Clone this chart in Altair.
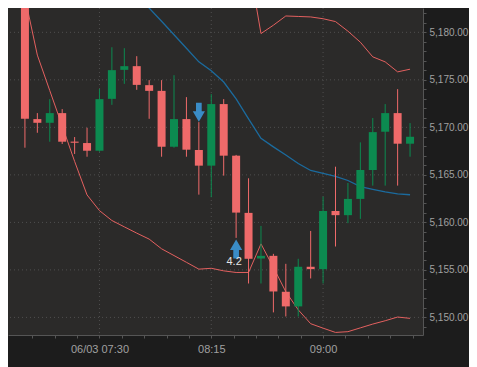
import altair as alt
import pandas as pd

# ---- data ----
candle_times = ["07:00", "07:05", "07:10", "07:15", "07:20", "07:25", "07:30", "07:35",
                "07:40", "07:45", "07:50", "07:55", "08:00", "08:05", "08:10", "08:15",
                "08:20", "08:25", "08:30", "08:35", "08:40", "08:45", "08:50", "08:55",
                "09:00", "09:05", "09:10", "09:15", "09:20", "09:25", "09:30", "09:35"]
opens = [5185.0, 5170.87, 5170.48, 5171.5, 5168.5, 5168.35, 5167.54, 5173.0,
         5176.05, 5176.44, 5174.44, 5173.84, 5167.96, 5170.87, 5167.62, 5165.97,
         5172.45, 5167.02, 5161.0, 5156.2, 5156.48, 5152.7, 5151.16, 5155.33,
         5155.08, 5161.2, 5160.76, 5162.47, 5165.51, 5169.54, 5171.5, 5168.28]
highs = [5186.0, 5171.5, 5172.97, 5171.92, 5168.98, 5169.96, 5174.05, 5178.43,
         5178.33, 5177.49, 5174.97, 5174.97, 5175.49, 5173.18, 5170.55, 5173.5,
         5172.97, 5167.1, 5164.64, 5159.63, 5156.69, 5155.64, 5156.17, 5159.1,
         5162.71, 5165.86, 5164.15, 5168.42, 5170.98, 5172.45, 5174.02, 5170.45]
lows = [5167.86, 5169.43, 5168.49, 5168.25, 5167.2, 5166.91, 5167.44, 5172.37,
        5174.58, 5173.95, 5170.9, 5166.91, 5167.86, 5166.91, 5162.92, 5162.65,
        5164.92, 5158.37, 5153.57, 5153.57, 5150.53, 5150.1, 5150.1, 5154.1,
        5153.57, 5157.46, 5159.92, 5160.37, 5163.87, 5163.87, 5163.87, 5166.91]
closes = [5170.9, 5170.48, 5171.5, 5168.49, 5168.38, 5167.54, 5172.97, 5176.02,
          5176.44, 5174.47, 5173.84, 5167.96, 5170.87, 5167.65, 5165.97, 5172.45,
          5167.02, 5161.03, 5156.17, 5156.48, 5152.73, 5151.16, 5155.33, 5155.08,
          5161.2, 5160.76, 5162.47, 5165.51, 5169.5, 5171.5, 5168.28, 5169.01]
upper_band = [None] * 18 + [5187.5, 5179.87, 5180.75, 5181.72, 5181.67, 5181.62, 5181.43,
                            5181.13, 5180.12, 5178.96, 5177.42, 5176.89, 5175.84, 5176.12]
lower_band = [5183.7, 5177.6, 5173.87, 5170.15, 5166.42, 5162.89, 5161.24, 5160.2,
              5159.53, 5158.87, 5158.24, 5157.22, 5156.51, 5155.8, 5155.08, 5155.17,
              5154.9, 5154.73, 5154.73, 5157.74, 5155.27, 5152.7, 5150.8, 5149.34,
              5148.87, 5148.42, 5148.5, 5148.9, 5149.3, 5149.65, 5150.04, 5149.9]
moving_avg = [None] * 9 + [5183.96, 5182.55, 5181.17, 5179.75, 5178.33, 5176.89, 5175.95,
                           5174.77, 5173.0, 5170.9, 5168.84, 5167.95, 5167.09, 5166.2,
                           5165.46, 5165.15, 5164.83, 5164.41, 5163.76, 5163.47, 5163.2,
                           5162.99, 5162.91]

signal_times = ["08:10", "08:25"]
signal_dirs = ["down", "up"]
signal_prices = [5171.6, 5157.2]
signal_labels = ["", "4.2"]

price_grid = [5150, 5155, 5160, 5165, 5170, 5175, 5180]
x_label_times = ["07:30", "08:15", "09:00"]
x_label_texts = ["06/03 07:30", "08:15", "09:00"]


def to_min(s):
    h, m = s.split(":")
    return int(h) * 60 + int(m)


RED = "#ef6a6a"
GREEN = "#0c8a50"
BAND = "#e3605f"
BLUE = "#1b6b9e"
ARROW = "#3a8cc6"
GRID = "#4f4f4f"

df = pd.DataFrame({
    "t": [to_min(s) for s in candle_times],
    "open": opens, "high": highs, "low": lows, "close": closes,
    "upper": upper_band, "lower": lower_band, "ma": moving_avg,
})
df["dir"] = ["up" if c >= o else "down" for o, c in zip(opens, closes)]

sig = pd.DataFrame({
    "t": [to_min(s) for s in signal_times],
    "dir": signal_dirs, "price": signal_prices, "label": signal_labels,
})

xs = alt.Scale(domain=[415.2, 578.2], nice=False, zero=False)
ys = alt.Scale(domain=[5148.15, 5182.56], nice=False, zero=False)

x_label_min = [to_min(s) for s in x_label_times]
expr = "''"
for m, txt in reversed(list(zip(x_label_min, x_label_texts))):
    expr = f"datum.value == {m} ? '{txt}' : ({expr})"

x_axis = alt.Axis(values=list(range(423, 578, 9)), labelExpr=expr, title=None,
                  labelOverlap=False, labelFlush=False, grid=False, labelPadding=5,
                  labelFontSize=11)
y_axis = alt.Axis(values=list(range(5149, 5183)), orient="right", title=None,
                  labelExpr="datum.value % 5 == 0 ? format(datum.value, ',.2f') : ''",
                  labelOverlap=False, labelFlush=False, grid=False, labelPadding=3,
                  labelBaseline="middle", labelFontSize=10)

X = alt.X("t:Q", scale=xs, axis=x_axis)

grid_df = pd.DataFrame({"v": price_grid})
vgrid_df = pd.DataFrame({"t": x_label_min})

hgrid = alt.Chart(grid_df).mark_rule(color=GRID, strokeDash=[1, 3], strokeWidth=1).encode(
    y=alt.Y("v:Q", scale=ys, axis=y_axis))
vgrid = alt.Chart(vgrid_df).mark_rule(color=GRID, strokeDash=[1, 3], strokeWidth=1).encode(x=X)

color = alt.Color("dir:N", scale=alt.Scale(domain=["up", "down"], range=[GREEN, RED]), legend=None)

base = alt.Chart(df)
wicks = base.mark_rule(strokeWidth=1, clip=True).encode(
    x=X, y=alt.Y("low:Q", scale=ys, axis=y_axis), y2="high:Q", color=color)
bodies = base.mark_bar(size=8, clip=True).encode(
    x=X, y=alt.Y("open:Q", scale=ys, axis=y_axis), y2="close:Q", color=color)
upper = base.mark_line(color=BAND, strokeWidth=1, clip=True).encode(
    x=X, y=alt.Y("upper:Q", scale=ys, axis=y_axis))
lower = base.mark_line(color=BAND, strokeWidth=1, clip=True).encode(
    x=X, y=alt.Y("lower:Q", scale=ys, axis=y_axis))
ma = base.mark_line(color=BLUE, strokeWidth=1.3, clip=True).encode(
    x=X, y=alt.Y("ma:Q", scale=ys, axis=y_axis))

up_path = "M0,-1 L0.64,0.1 L0.3,0.1 L0.3,1 L-0.3,1 L-0.3,0.1 L-0.64,0.1 Z"
down_path = "M0,1 L0.64,-0.1 L0.3,-0.1 L0.3,-1 L-0.3,-1 L-0.3,-0.1 L-0.64,-0.1 Z"
arrows = alt.Chart(sig).mark_point(filled=True, size=361, opacity=1, strokeWidth=0, clip=True).encode(
    x=X, y=alt.Y("price:Q", scale=ys, axis=y_axis),
    shape=alt.Shape("dir:N", scale=alt.Scale(domain=["up", "down"], range=[up_path, down_path]), legend=None),
    color=alt.value(ARROW))
labels = alt.Chart(sig[sig["label"] != ""]).mark_text(
    color="#e6e6e6", fontSize=11, font="Liberation Sans", dy=13, dx=-2).encode(
    x=X, y=alt.Y("price:Q", scale=ys, axis=y_axis), text="label:N")

chart = alt.layer(hgrid, vgrid, lower, upper, ma, wicks, bodies, arrows, labels).properties(
    width=415, height=327,
    padding={"left": 0, "top": 0, "right": 46, "bottom": 32},
    autosize=alt.AutoSizeParams(type="none"),
    background="#1c1c1c",
).configure_view(fill="#2b2a29", strokeWidth=0).configure_axis(
    labelFont="Liberation Sans", labelColor="#a0a0a0",
    domainColor="#555555", tickColor="#555555", tickSize=3,
)

chart.save("out.html", embed_options={"renderer": "svg", "actions": False})
